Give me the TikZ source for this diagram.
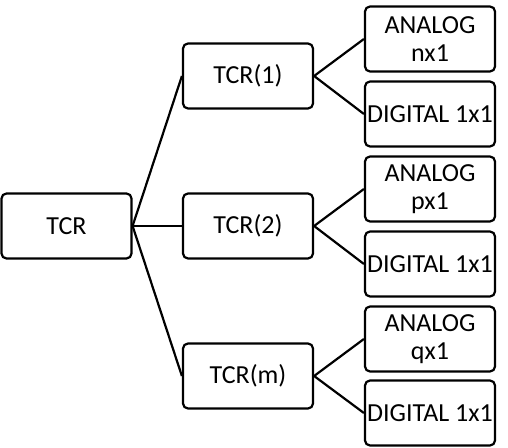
\documentclass[tikz,border=0pt]{standalone}
\usepackage{fontspec}
\setmainfont{Carlito}
\begin{document}
\begin{tikzpicture}[x=0.5pt,y=-0.5pt,
  box/.style={draw, line width=1.1pt, rounded corners=2.5pt, minimum width=65pt, minimum height=32.5pt, inner sep=0pt, align=center, font=\fontsize{13}{14}\selectfont},
  link/.style={line width=1.1pt}]
\useasboundingbox (0,0) rectangle (508,448);
\node[box] (tcr) at (66.5,226) {TCR};
\node[box] (t1) at (248,76) {TCR(1)};
\node[box] (t2) at (248,226) {TCR(2)};
\node[box] (tm) at (248,376) {TCR(m)};
\node[box] (a1) at (430,39) {ANALOG\\nx1};
\node[box] (d1) at (430,114) {DIGITAL 1x1};
\node[box] (a2) at (430,189) {ANALOG\\px1};
\node[box] (d2) at (430,264) {DIGITAL 1x1};
\node[box] (a3) at (430,339) {ANALOG\\qx1};
\node[box] (d3) at (430,413) {DIGITAL 1x1};
\draw[link] (tcr.east) -- (t1.west);
\draw[link] (tcr.east) -- (t2.west);
\draw[link] (tcr.east) -- (tm.west);
\draw[link] (t1.east) -- (a1.west);
\draw[link] (t1.east) -- (d1.west);
\draw[link] (t2.east) -- (a2.west);
\draw[link] (t2.east) -- (d2.west);
\draw[link] (tm.east) -- (a3.west);
\draw[link] (tm.east) -- (d3.west);
\end{tikzpicture}
\end{document}
